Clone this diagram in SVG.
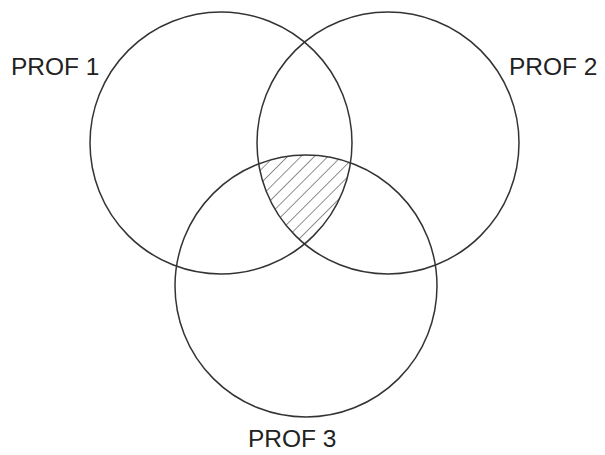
<svg xmlns="http://www.w3.org/2000/svg" width="605" height="455" viewBox="0 0 605 455">
<style>
.c{fill:none;stroke:#333;stroke-width:1.5}
.t{font-family:"Liberation Sans",Arial,sans-serif;font-size:24.5px;fill:#222}
</style>
<defs>
<pattern id="h" patternUnits="userSpaceOnUse" width="9.5" height="9.5" patternTransform="rotate(45)">
<line x1="0" y1="0" x2="0" y2="9.5" stroke="#444" stroke-width="1.2"/>
</pattern>
<clipPath id="k1"><circle cx="221" cy="143" r="131"/></clipPath>
<clipPath id="k2"><circle cx="388" cy="143" r="131"/></clipPath>
<clipPath id="k3"><circle cx="306" cy="286" r="131"/></clipPath>
</defs>
<g id="hatch" clip-path="url(#k1)"><g clip-path="url(#k2)"><g clip-path="url(#k3)">
<rect x="240" y="140" width="130" height="110" fill="url(#h)"/>
</g></g></g>
<g id="prof1"><circle class="c" cx="221" cy="143" r="131"/><text class="t" x="11" y="75">PROF 1</text></g>
<g id="prof2"><circle class="c" cx="388" cy="143" r="131"/><text class="t" x="509" y="75">PROF 2</text></g>
<g id="prof3"><circle class="c" cx="306" cy="286" r="131"/><text class="t" x="248" y="447">PROF 3</text></g>
</svg>
